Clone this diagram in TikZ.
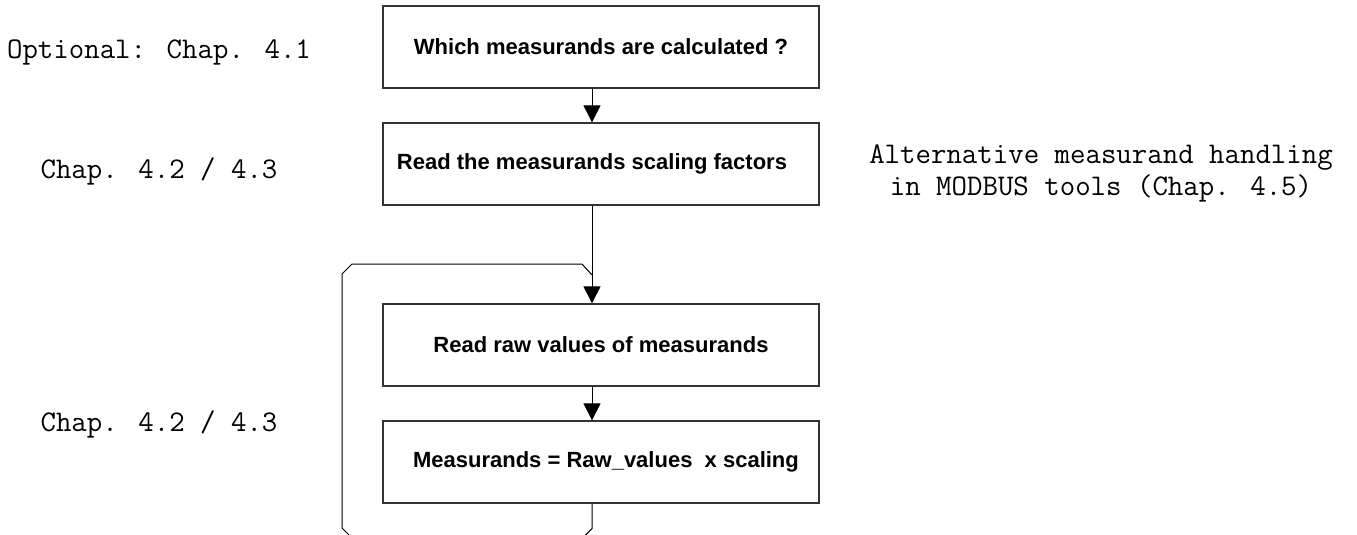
\documentclass[tikz,border=0pt]{standalone}
\usepackage{fontspec}
\setmainfont{Liberation Sans}
\usetikzlibrary{arrows.meta,positioning}
\tikzset{
    flowbox/.style={
        draw=black!80,
        line width=1.3pt,
        rectangle,
        minimum width=436pt,
        minimum height=82pt,
        font=\fontsize{22}{26}\selectfont\bfseries
    },
    note/.style={
        align=center,
        font=\ttfamily\fontsize{30}{32}\selectfont
    },
    flow/.style={
        line width=1pt,
        -{Triangle[length=17pt,width=17pt]}
    }
}

\begin{document}
\begin{tikzpicture}[x=1pt,y=-1pt]
  \useasboundingbox (0,0) rectangle (1357,535);

  \node[flowbox] (Calc) at (601,47) {Which measurands are calculated ?};
  \node[flowbox] (Scale) at (601,164) {Read the measurands scaling factors\hspace*{18pt}};
  \node[flowbox] (Raw) at (601,345) {Read raw values of measurands};
  \node[flowbox] (Mult) at (601,462) {\hspace*{10pt}Measurands = Raw\_values\ \ x scaling};

  \node[note] (Opt) at (159,52) {Optional: Chap. 4.1};
  \node[note] (ChapA) at (159,171) {Chap. 4.2 / 4.3};
  \node[note] (ChapB) at (159,424) {Chap. 4.2 / 4.3};
  \node[note] (Alt) at (1101,173) {Alternative measurand handling\\in MODBUS tools (Chap. 4.5)};

  \draw[flow] ([xshift=-9pt]Calc.south) -- ([xshift=-9pt]Scale.north);
  \draw[flow] ([xshift=-9pt]Scale.south) -- ([xshift=-9pt]Raw.north);
  \draw[flow] ([xshift=-9pt]Raw.south) -- ([xshift=-9pt]Mult.north);

  \coordinate (Join) at (592,275);
  \draw[line width=1pt] ([xshift=-9pt]Mult.south) -- ++(0,25) -- ++(-10,10)
    -- (352,538) -- (342,528) -- (342,274) -- (352,264) -- (582,264) -- (Join);

\end{tikzpicture}
\end{document}
